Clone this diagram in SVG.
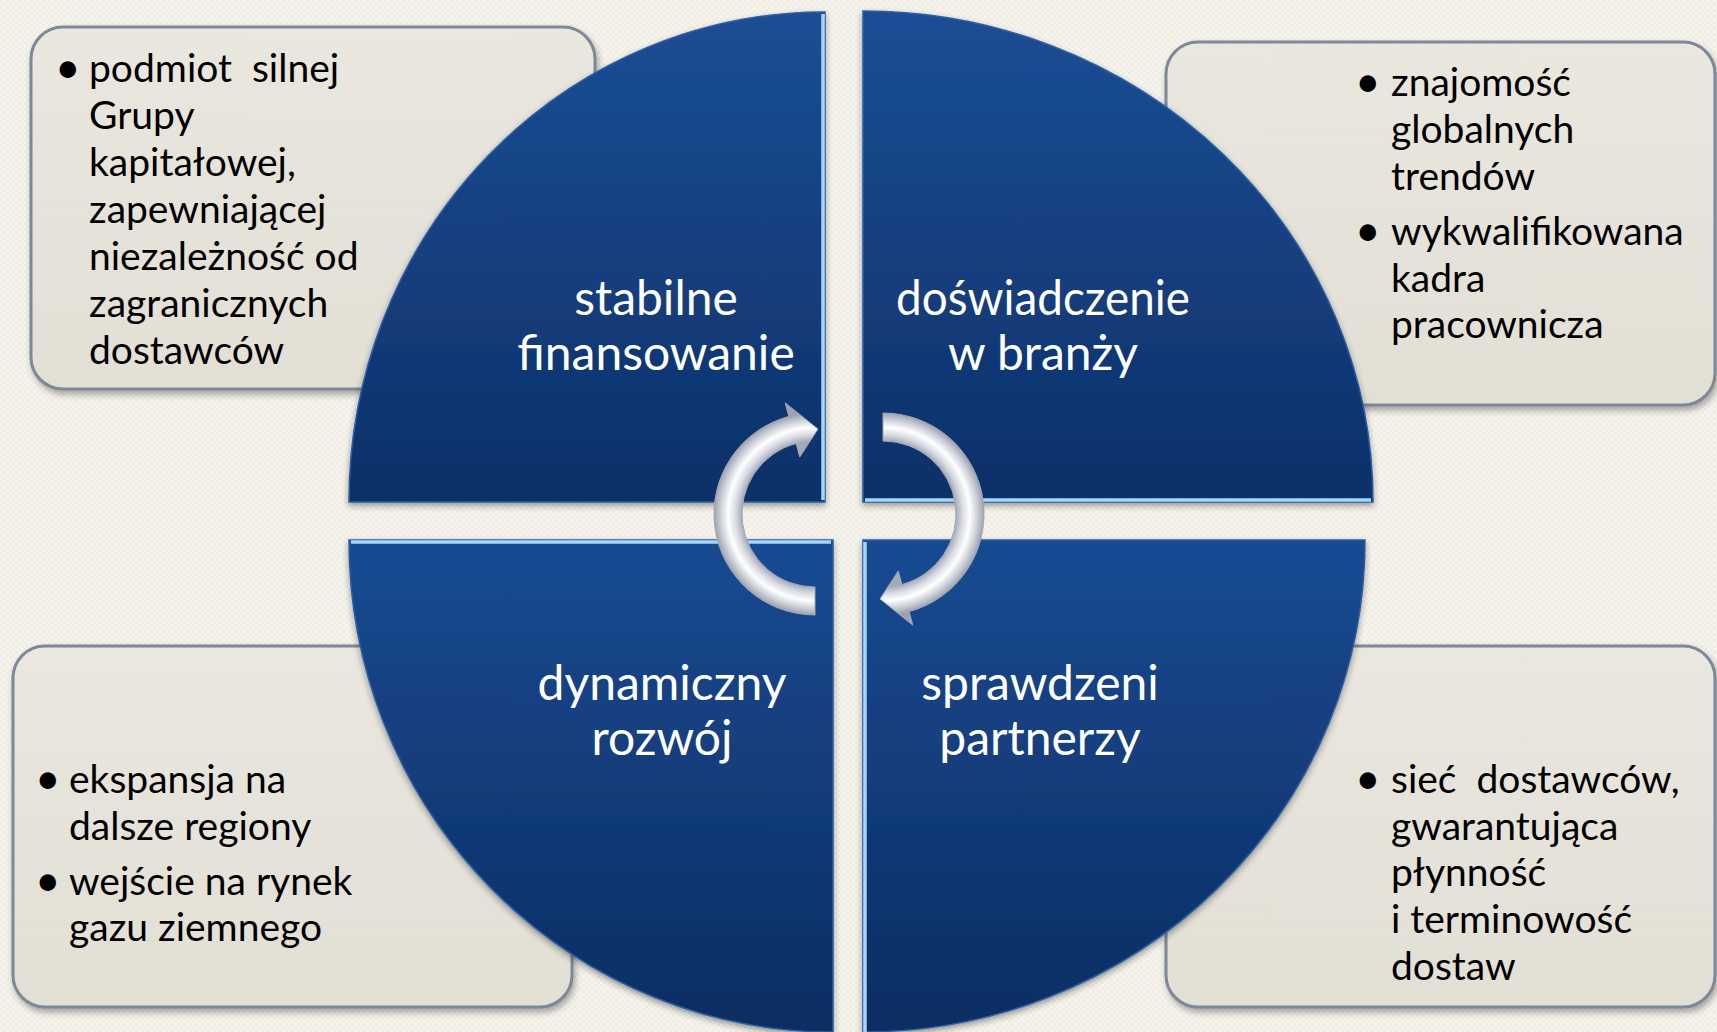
<svg xmlns="http://www.w3.org/2000/svg" width="1717" height="1032" viewBox="0 0 1717 1032">
<defs>
<style>
.bx{font-family:Lato,"Liberation Sans",sans-serif;font-size:39px;fill:#000;white-space:pre}
.bul{font-family:Lato,"Liberation Sans",sans-serif;font-size:44px;fill:#000}
.lbl{font-family:Lato,"Liberation Sans",sans-serif;font-size:48px;fill:#fff;text-anchor:middle}
.box{fill:url(#boxg);stroke:#7f8899;stroke-width:3;filter:url(#sh)}
.quad{filter:url(#qsh);stroke:#2a5da2;stroke-width:1.5}
.hl{stroke:#a6d6fa;stroke-width:3.5;fill:none;stroke-linecap:butt}
.arrow{fill:url(#arg);stroke:#a3a8b4;stroke-width:1}
</style>
<pattern id="bg" width="6" height="6" patternUnits="userSpaceOnUse">
<rect width="6" height="6" fill="#f6f4ed"/>
<rect width="3" height="3" fill="#efede4"/>
<rect x="3" y="3" width="3" height="3" fill="#efede4"/>
</pattern>
<linearGradient id="boxg" x1="0" y1="0" x2="0" y2="1">
<stop offset="0" stop-color="#e9e7de"/>
<stop offset="1" stop-color="#e2dfd5"/>
</linearGradient>
<linearGradient id="qtop" x1="0" y1="0" x2="0" y2="1">
<stop offset="0" stop-color="#1b4e95"/>
<stop offset="1" stop-color="#0d3068"/>
</linearGradient>
<linearGradient id="qbot" x1="0" y1="0" x2="0" y2="1">
<stop offset="0" stop-color="#184b92"/>
<stop offset="1" stop-color="#0c2d62"/>
</linearGradient>
<radialGradient id="arg" gradientUnits="userSpaceOnUse" cx="815" cy="514" r="101">
<stop offset="0.72" stop-color="#a4a9b6"/>
<stop offset="0.79" stop-color="#d9dce4"/>
<stop offset="0.86" stop-color="#ffffff"/>
<stop offset="0.94" stop-color="#c9ccd5"/>
<stop offset="1" stop-color="#9da2ae"/>
</radialGradient>
<filter id="sh" x="-10%" y="-10%" width="120%" height="125%">
<feDropShadow dx="2" dy="4" stdDeviation="3" flood-color="#444" flood-opacity="0.45"/>
</filter>
<filter id="qsh" x="-10%" y="-10%" width="120%" height="120%">
<feDropShadow dx="0" dy="3" stdDeviation="3" flood-color="#222" flood-opacity="0.45"/>
</filter>
</defs>
<rect width="1717" height="1032" fill="url(#bg)"/>

<g id="box-tl">
<rect class="box" x="31" y="27" width="564" height="362" rx="32"/>
</g>
<g id="box-tr">
<rect class="box" x="1166" y="42" width="549" height="363" rx="32"/>
</g>
<g id="box-bl">
<rect class="box" x="13" y="646" width="559" height="361" rx="32"/>
</g>
<g id="box-br">
<rect class="box" x="1166" y="646" width="549" height="361" rx="32"/>
</g>

<g id="quad-tl">
<path class="quad" d="M825,502 L349,502 A476,490 0 0 1 825,12 Z" fill="url(#qtop)"/>
<line class="hl" x1="823" y1="14" x2="823" y2="500"/>
<text class="lbl" x="656" y="315">stabilne</text>
<text class="lbl" x="656" y="370">finansowanie</text>
</g>
<g id="quad-tr">
<path class="quad" d="M863,502 L863,11 A510,491 0 0 1 1373,502 Z" fill="url(#qtop)"/>
<line class="hl" x1="865" y1="500" x2="1371" y2="500"/>
<text class="lbl" x="1043" y="315" textLength="294" lengthAdjust="spacingAndGlyphs">doświadczenie</text>
<text class="lbl" x="1043" y="370">w branży</text>
</g>
<g id="quad-bl">
<path class="quad" d="M833,540 L349,540 A484,492 0 0 0 833,1032 Z" fill="url(#qbot)"/>
<line class="hl" x1="351" y1="542" x2="831" y2="542"/>
<text class="lbl" x="662" y="700">dynamiczny</text>
<text class="lbl" x="662" y="755">rozwój</text>
</g>
<g id="quad-br">
<path class="quad" d="M863,540 L1365,540 A502,492 0 0 1 863,1032 Z" fill="url(#qbot)"/>
<line class="hl" x1="865" y1="542" x2="865" y2="1032"/>
<text class="lbl" x="1040" y="700">sprawdzeni</text>
<text class="lbl" x="1040" y="755">partnerzy</text>
</g>

<g id="text-tl">
<text class="bul" x="55" y="83">•</text>
<text class="bx" x="89" y="82">podmiot  silnej</text>
<text class="bx" x="89" y="129">Grupy</text>
<text class="bx" x="89" y="176">kapitałowej,</text>
<text class="bx" x="89" y="223">zapewniającej</text>
<text class="bx" x="89" y="270">niezależność od</text>
<text class="bx" x="89" y="317">zagranicznych</text>
<text class="bx" x="89" y="364">dostawców</text>
</g>
<g id="text-tr">
<text class="bul" x="1355" y="97">•</text>
<text class="bx" x="1391" y="96">znajomość</text>
<text class="bx" x="1391" y="143">globalnych</text>
<text class="bx" x="1391" y="190">trendów</text>
<text class="bul" x="1355" y="246">•</text>
<text class="bx" x="1391" y="245">wykwalifikowana</text>
<text class="bx" x="1391" y="292">kadra</text>
<text class="bx" x="1391" y="338">pracownicza</text>
</g>
<g id="text-bl">
<text class="bul" x="35" y="794">•</text>
<text class="bx" x="69" y="793">ekspansja na</text>
<text class="bx" x="69" y="840">dalsze regiony</text>
<text class="bul" x="35" y="896">•</text>
<text class="bx" x="69" y="895">wejście na rynek</text>
<text class="bx" x="69" y="941">gazu ziemnego</text>
</g>
<g id="text-br">
<text class="bul" x="1355" y="794">•</text>
<text class="bx" x="1391" y="793">sieć  dostawców,</text>
<text class="bx" x="1391" y="840">gwarantująca</text>
<text class="bx" x="1391" y="886">płynność</text>
<text class="bx" x="1391" y="933">i terminowość</text>
<text class="bx" x="1391" y="980">dostaw</text>
</g>

<g id="connectors">
<path class="arrow" d="M815,615 A101,101 0 0 1 788.86,416.44 L785.24,402.92 L817.97,429.05 L799.73,457.01 L796.11,443.49 A73,73 0 0 0 815,587 Z"/>
<path class="arrow" transform="rotate(180 849 514)" d="M815,615 A101,101 0 0 1 788.86,416.44 L785.24,402.92 L817.97,429.05 L799.73,457.01 L796.11,443.49 A73,73 0 0 0 815,587 Z"/>
</g>
</svg>
